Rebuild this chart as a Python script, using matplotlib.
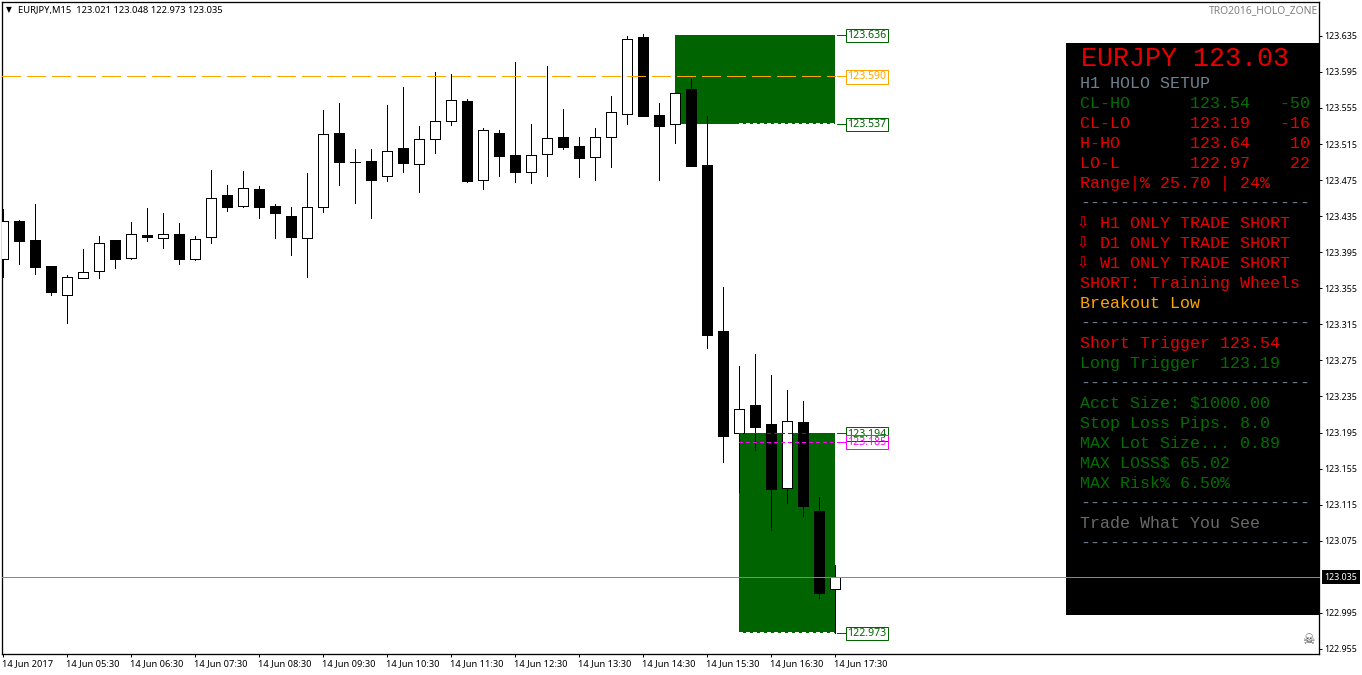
import matplotlib
matplotlib.use("Agg")
import matplotlib.pyplot as plt
from matplotlib.patches import Rectangle
from matplotlib.transforms import Affine2D
import numpy as np

opens = [123.387, 123.430, 123.409, 123.380, 123.348, 123.366, 123.374, 123.408, 123.389, 123.414,
         123.411, 123.415, 123.387, 123.412, 123.459, 123.446, 123.465, 123.446, 123.435, 123.411,
         123.445, 123.527, 123.495, 123.496, 123.480, 123.511, 123.493, 123.521, 123.541, 123.563,
         123.475, 123.527, 123.503, 123.484, 123.504, 123.523, 123.513, 123.501, 123.523, 123.548,
         123.634, 123.547, 123.537, 123.576, 123.492, 123.308, 123.195, 123.225, 123.205, 123.134,
         123.207, 123.108, 123.021]
highs = [123.443, 123.431, 123.449, 123.380, 123.370, 123.399, 123.413, 123.408, 123.429, 123.444,
         123.438, 123.427, 123.413, 123.486, 123.469, 123.485, 123.468, 123.448, 123.445, 123.483,
         123.553, 123.561, 123.509, 123.509, 123.558, 123.578, 123.535, 123.595, 123.593, 123.565,
         123.533, 123.530, 123.606, 123.537, 123.602, 123.554, 123.523, 123.533, 123.568, 123.635,
         123.637, 123.560, 123.572, 123.587, 123.546, 123.356, 123.269, 123.282, 123.259, 123.242,
         123.230, 123.123, 123.048]
lows = [123.367, 123.382, 123.371, 123.347, 123.317, 123.366, 123.366, 123.378, 123.388, 123.407,
        123.400, 123.382, 123.386, 123.405, 123.441, 123.445, 123.433, 123.411, 123.392, 123.367,
        123.440, 123.470, 123.450, 123.433, 123.474, 123.484, 123.462, 123.505, 123.536, 123.473,
        123.465, 123.480, 123.473, 123.472, 123.479, 123.509, 123.478, 123.475, 123.489, 123.537,
        123.546, 123.475, 123.516, 123.491, 123.289, 123.162, 123.129, 123.176, 123.087, 123.117,
        123.102, 123.011, 122.973]
closes = [123.430, 123.407, 123.379, 123.351, 123.367, 123.373, 123.405, 123.387, 123.415, 123.412,
          123.415, 123.388, 123.410, 123.455, 123.445, 123.466, 123.445, 123.439, 123.412, 123.445,
          123.526, 123.495, 123.495, 123.475, 123.507, 123.494, 123.521, 123.540, 123.564, 123.474,
          123.530, 123.502, 123.484, 123.503, 123.522, 123.512, 123.499, 123.523, 123.550, 123.632,
          123.546, 123.535, 123.572, 123.491, 123.303, 123.191, 123.221, 123.201, 123.132, 123.208,
          123.114, 123.017, 123.035]

tick_labels = ["14 Jun 2017", "14 Jun 05:30", "14 Jun 06:30", "14 Jun 07:30", "14 Jun 08:30",
               "14 Jun 09:30", "14 Jun 10:30", "14 Jun 11:30", "14 Jun 12:30", "14 Jun 13:30",
               "14 Jun 14:30", "14 Jun 15:30", "14 Jun 16:30", "14 Jun 17:30"]
price_ticks = [123.635, 123.595, 123.555, 123.515, 123.475, 123.435, 123.395, 123.355, 123.315,
               123.275, 123.235, 123.195, 123.155, 123.115, 123.075, 122.995, 122.955]

upper_zone = [123.636, 123.537]
lower_zone = [123.194, 122.973]
orange_level = 123.590
magenta_level = 123.185
last_price = 123.035

panel_rows = ["H1 HOLO SETUP", "CL-HO      123.54   -50", "CL-LO      123.19   -16",
              "H-HO       123.64    10", "LO-L       122.97    22", "Range|% 25.70 | 24%",
              "-" * 23, "H1 ONLY TRADE SHORT", "D1 ONLY TRADE SHORT", "W1 ONLY TRADE SHORT",
              "SHORT: Training Wheels", "Breakout Low", "-" * 23, "Short Trigger 123.54",
              "Long Trigger  123.19", "-" * 23, "Acct Size: $1000.00", "Stop Loss Pips. 8.0",
              "MAX Lot Size... 0.89", "MAX LOSS$ 65.02", "MAX Risk% 6.50%", "-" * 23,
              "Trade What You See", "-" * 23]
RED, GREEN, SLATE, DIM, ORANGE = "#e60000", "#006f00", "#708090", "#696969", "#ffa500"
panel_colors = [SLATE, GREEN, RED, RED, RED, RED, SLATE, RED, RED, RED, RED, ORANGE, SLATE, RED,
                GREEN, SLATE, GREEN, GREEN, GREEN, GREEN, GREEN, SLATE, DIM, SLATE]

W, H = 1362, 675
LW = 0.72  # one pixel
UI = "Noto Sans"
ZONE = "#006400"

fig = plt.figure(figsize=(W / 100, H / 100), dpi=100)
ax = fig.add_axes([2 / W, 1 - 654 / H, 1317 / W, 652 / H])
ax.set_xlim(-1 / 16, 1316 / 16)
ax.set_ylim(122.9494, 123.6725)
px = Affine2D().scale(1 / W, -1 / H).translate(0, 1) + fig.transFigure
one_up = ax.transData + Affine2D().translate(0, 1)  # bottom pixel row of a zone

for s in ax.spines.values():
    s.set_linewidth(LW * 1.3)
ax.yaxis.tick_right()
ax.set_yticks(price_ticks, [f"{t:.3f}" for t in price_ticks])
ax.set_xticks(np.arange(len(tick_labels)) * 4, tick_labels, ha="left")
ax.tick_params(axis="y", length=2.5, width=LW, labelsize=6.4, pad=1.5)
ax.tick_params(axis="x", length=2.5, width=LW, labelsize=6.7, pad=1.5)
for lab in ax.get_xticklabels() + ax.get_yticklabels():
    lab.set_family(UI)
for lab in ax.get_xticklabels():
    lab.set_transform(lab.get_transform() + Affine2D().translate(-1, 0))

# zones
n = len(opens)
x = np.arange(n)
ax.add_patch(Rectangle((42, upper_zone[1]), 10, upper_zone[0] - upper_zone[1], fc=ZONE, ec="none", zorder=1))
ax.add_patch(Rectangle((46, lower_zone[1]), 6, lower_zone[0] - lower_zone[1], fc=ZONE, ec="none", zorder=1))

# candles
o, h, l, c = map(np.array, (opens, highs, lows, closes))
ax.vlines(x, l, h, colors="k", lw=LW, antialiased=False, zorder=2)
up = c >= o
top = np.maximum(o, c)
bot = np.minimum(o, c)
ax.bar(x[up], (top - bot)[up], bottom=bot[up], width=10 / 16, fc="w", ec="k", lw=LW, antialiased=False, zorder=3)
ax.bar(x[~up], (top - bot)[~up], bottom=bot[~up], width=10 / 16, fc="k", ec="k", lw=LW, antialiased=False, zorder=3)

# levels
ax.plot([-0.06, 52], [orange_level] * 2, color=ORANGE, lw=0.9, ls=(0, (14.4, 4.8)), antialiased=False, zorder=4)
ax.plot([46, 52], [magenta_level] * 2, color="magenta", lw=LW, ls=(0, (4, 3)), antialiased=False, zorder=4)
ax.plot([46, 52], [lower_zone[0]] * 2, color=ZONE, lw=LW, ls=(0, (4, 3)), antialiased=False, zorder=4)
ax.plot([46, 52], [upper_zone[1]] * 2, color="w", lw=LW, ls=(0, (3, 3)), antialiased=False, zorder=4, transform=one_up)
ax.plot([46, 52], [lower_zone[1]] * 2, color="w", lw=LW, ls=(0, (3, 3)), antialiased=False, zorder=4, transform=one_up)

labels = [(upper_zone[0], ZONE), (upper_zone[1], ZONE), (lower_zone[0], ZONE), (lower_zone[1], ZONE),
          (orange_level, ORANGE), (magenta_level, "magenta")]
for lev, col in labels:
    ax.plot([52.1, 52.7], [lev, lev], color=col, lw=LW, antialiased=False, zorder=4)
    ax.annotate(f"{lev:.3f}", (54, lev), xytext=(0, -0.4), textcoords="offset points", color=col, family=UI,
                fontsize=7.6, ha="center", va="center", zorder=5,
                bbox=dict(fc="none", ec=col, lw=LW, boxstyle="square,pad=0.12"))

# info panel
ax.add_patch(Rectangle((1066, 43), 254, 572, fc="k", ec="none", transform=px, clip_on=False, zorder=6))
ax.text(1081, 66, "EURJPY 123.03", color=RED, family="Liberation Mono", fontsize=19.2, transform=px, zorder=7)
arrow_rows = [7, 8, 9]
for r, (txt, col) in enumerate(zip(panel_rows, panel_colors)):
    tx = 1100 if r in arrow_rows else 1080
    ax.text(tx, 87.7 + 20 * r, txt, color=col, family="Liberation Mono", fontsize=12, transform=px, zorder=7)
    if r in arrow_rows:
        ax.text(1083, 83 + 20 * r, "\u21e9", color=col, family="DejaVu Sans", fontsize=10.5, ha="center",
                va="center", transform=px, zorder=7)

# last price line and tag
ax.plot([-0.06, 1316 / 16], [last_price] * 2, color="#808890", lw=LW, antialiased=False, clip_on=False, zorder=8)
ax.text(1341, 577, f"{last_price:.3f}", color="w", family=UI, fontsize=6.4, ha="center", va="center", transform=px,
        zorder=9, bbox=dict(fc="k", ec="k", lw=0, boxstyle="square,pad=0.25"))

# chart header
ax.text(9, 10, "\u25bc", color="k", family="DejaVu Sans", fontsize=5.5, ha="center", va="center", transform=px)
ax.text(18, 10.5, f"EURJPY,M15  {opens[-1]:.3f} {highs[-1]:.3f} {lows[-1]:.3f} {closes[-1]:.3f}", color="k",
        family=UI, fontsize=6.75, va="center", transform=px)
ax.text(1318, 11, "TRO2016_HOLO_ZONE", color="#808080", family=UI, fontsize=7.4, fontweight="bold", ha="right",
        va="center", transform=px)
ax.text(1308, 640, "\u2620", color="#505050", family="DejaVu Sans", fontsize=10, ha="center", va="center",
        transform=px)

fig.savefig("out.png", dpi=100)
